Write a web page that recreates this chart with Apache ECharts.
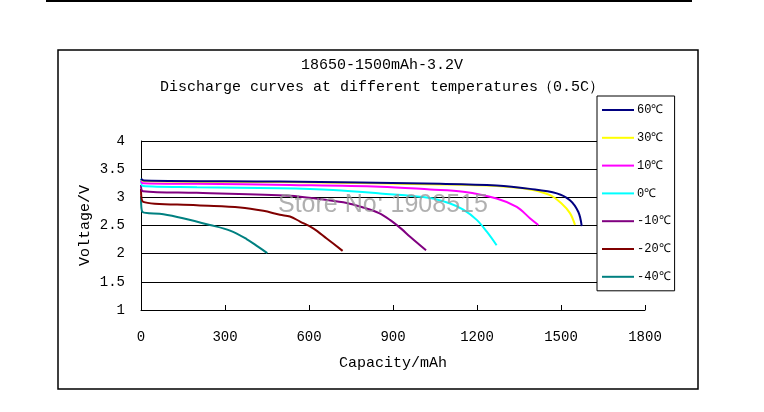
<!DOCTYPE html>
<html>
<head>
<meta charset="utf-8">
<script src="https://cdn.jsdelivr.net/npm/echarts@6/dist/echarts.min.js"></script>
<style>
  html, body { margin: 0; padding: 0; background: #fff; }
  #chart { width: 764px; height: 412px; }
</style>
</head>
<body>
<div id="chart"></div>
<script>
// 放电曲线数据 [容量mAh, 电压V]
const xTicks = [0, 300, 600, 900, 1200, 1500, 1800];
const yTicks = [1, 1.5, 2, 2.5, 3, 3.5, 4];

const names = ["60℃", "30℃", "10℃", "0℃", "-10℃", "-20℃", "-40℃"];
const colors = ["#000080", "#ffff00", "#ff00ff", "#00ffff", "#800080", "#800000", "#008080"];

const t60 = [[0, 3.33], [10, 3.30], [496, 3.28], [1068, 3.24], [1270, 3.21], [1389, 3.15], [1485, 3.07], [1532, 2.95], [1562, 2.74], [1574, 2.49]];
const t30 = [[0, 3.32], [10, 3.29], [496, 3.27], [1068, 3.23], [1270, 3.20], [1389, 3.14], [1461, 3.04], [1502, 2.89], [1532, 2.72], [1550, 2.51]];
const t10 = [[0, 3.30], [7, 3.25], [200, 3.24], [532, 3.22], [854, 3.19], [1032, 3.14], [1151, 3.10], [1270, 2.98], [1342, 2.83], [1389, 2.63], [1419, 2.51]];
const t0 = [[0, 3.33], [7, 3.20], [200, 3.18], [496, 3.16], [686, 3.13], [854, 3.07], [1032, 2.99], [1104, 2.89], [1151, 2.78], [1199, 2.60], [1235, 2.39], [1270, 2.15]];
const tm10 = [[0, 3.22], [7, 3.11], [199, 3.08], [532, 3.03], [651, 2.96], [735, 2.90], [793, 2.82], [850, 2.72], [889, 2.60], [930, 2.44], [961, 2.30], [1018, 2.06]];
const tm20 = [[0, 3.15], [8, 2.92], [199, 2.86], [354, 2.82], [437, 2.76], [496, 2.69], [532, 2.66], [568, 2.57], [615, 2.45], [663, 2.27], [720, 2.05]];
const tm40 = [[0, 3.02], [5, 2.74], [80, 2.70], [150, 2.63], [246, 2.51], [318, 2.41], [377, 2.26], [419, 2.12], [451, 2.01]];

const curves = [t60, t30, t10, t0, tm10, tm20, tm40];
const mono = "Liberation Mono, DejaVu Sans Mono, monospace";

const chart = echarts.init(document.getElementById("chart"));

chart.setOption({
  backgroundColor: "#fff",
  animation: false,
  title: [
    {
      text: "18650-1500mAh-3.2V",
      left: "center",
      top: 53,
      textStyle: { fontFamily: mono, fontSize: 15, fontWeight: "normal", color: "#000" }
    },
    {
      text: "Discharge curves at different temperatures（0.5C）",
      left: "center",
      top: 75,
      textStyle: { fontFamily: mono, fontSize: 15, fontWeight: "normal", color: "#000" }
    }
  ],
  legend: {
    orient: "vertical",
    left: 597,
    top: 96,
    width: 83,
    padding: [7, 4, 7, 5],
    icon: "rect",
    itemWidth: 32,
    itemHeight: 2,
    itemGap: 13.8,
    backgroundColor: "#fff",
    borderColor: "#000",
    borderWidth: 1,
    textStyle: { fontFamily: mono, fontSize: 12, lineHeight: 14, color: "#000", padding: [0, 0, 0, -2] },
    data: names
  },
  grid: { left: 141, top: 141, width: 504, height: 169 },
  xAxis: {
    type: "value",
    min: xTicks[0],
    max: xTicks[xTicks.length - 1],
    interval: xTicks[1] - xTicks[0],
    name: "Capacity/mAh",
    nameLocation: "middle",
    nameGap: 46,
    nameTextStyle: { fontFamily: mono, fontSize: 15, color: "#000" },
    axisLine: { lineStyle: { color: "#000", width: 1 } },
    axisTick: { inside: true, length: 5, lineStyle: { color: "#000" } },
    axisLabel: { fontFamily: mono, fontSize: 14, color: "#000", margin: 20, formatter: v => String(v) },
    splitLine: { show: false }
  },
  yAxis: {
    type: "value",
    min: yTicks[0],
    max: yTicks[yTicks.length - 1],
    interval: yTicks[1] - yTicks[0],
    name: "Voltage/V",
    nameLocation: "middle",
    nameGap: 48,
    nameMoveOverlap: false,
    nameTextStyle: { fontFamily: mono, fontSize: 15, color: "#000" },
    axisLine: { show: true, lineStyle: { color: "#000", width: 1 } },
    axisTick: { show: false },
    axisLabel: { fontFamily: mono, fontSize: 14, color: "#000", margin: 16, formatter: v => String(v) },
    splitLine: { lineStyle: { color: "#000", width: 1 } }
  },
  series: curves.map((d, i) => ({
    name: names[i],
    type: "line",
    data: d,
    symbol: "none",
    smooth: 0.35,
    z: 10 - i,
    lineStyle: { color: colors[i], width: 2 },
    itemStyle: { color: colors[i] }
  })),
  graphic: [
    {
      type: "rect",
      shape: { x: 58, y: 50, width: 640, height: 339 },
      style: { fill: "none", stroke: "#000", lineWidth: 1.5 },
      silent: true
    },
    {
      type: "line",
      shape: { x1: 46, y1: 1, x2: 692, y2: 1 },
      style: { stroke: "#000", lineWidth: 2 },
      silent: true
    },
    {
      type: "text",
      left: 278,
      top: 193,
      z: 100,
      style: {
        text: "Store No: 1908515",
        fill: "rgba(150,150,150,0.75)",
        font: "25px Liberation Sans, Arial, sans-serif"
      },
      silent: true
    }
  ]
});

window.addEventListener("resize", () => chart.resize());
</script>
</body>
</html>
